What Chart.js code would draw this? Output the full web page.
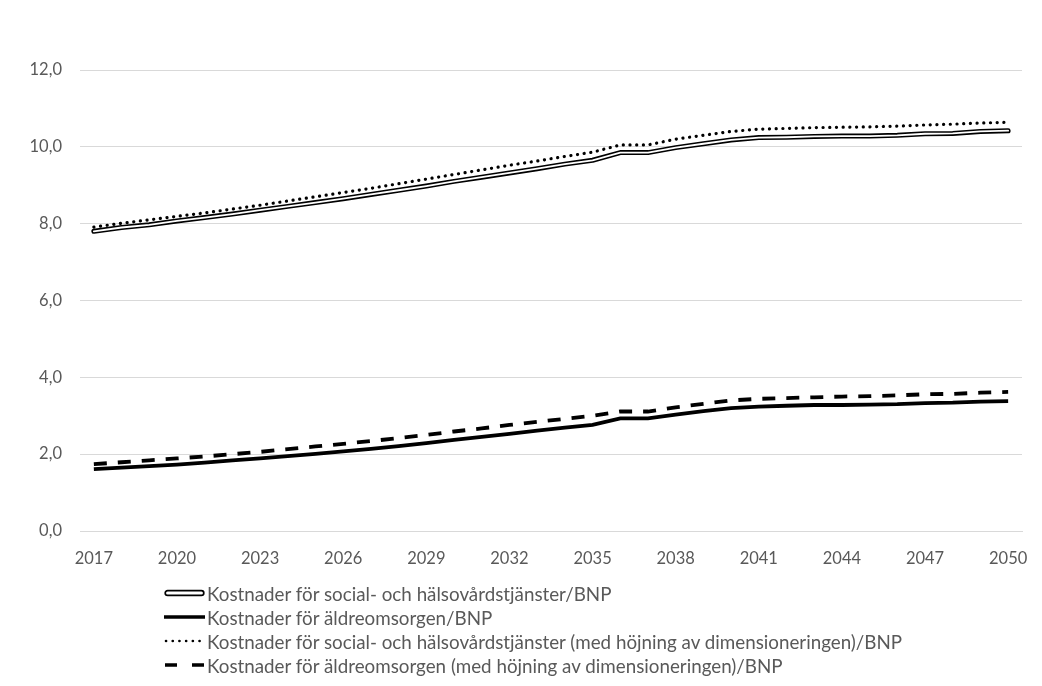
<!DOCTYPE html>
<html>
<head>
<meta charset="utf-8">
<script src="https://cdn.jsdelivr.net/npm/chart.js@4"></script>
<style>
  html,body{margin:0;padding:0;background:#fff;}
  #wrap{position:relative;width:1042px;height:686px;}
  #c{display:block;}
  #legend{position:absolute;left:164px;top:581px;font-family:Lato,"Open Sans",sans-serif;font-size:18.8px;color:#595959;}
  .row{height:24px;display:flex;align-items:center;white-space:nowrap;}
  .row svg{width:41px;height:10px;margin-right:2px;flex:none;}
</style>
</head>
<body>
<div id="wrap">
<canvas id="c" width="1042" height="686"></canvas>
<div id="legend"></div>
</div>
<script>
const years = [];
for (let y = 2017; y <= 2050; y++) years.push(String(y));

const seriesNames = [
  "Kostnader för social- och hälsovårdstjänster/BNP",
  "Kostnader för äldreomsorgen/BNP",
  "Kostnader för social- och hälsovårdstjänster (med höjning av dimensioneringen)/BNP",
  "Kostnader för äldreomsorgen (med höjning av dimensioneringen)/BNP"
];

const socialHealth = [7.80,7.90,7.97,8.07,8.16,8.25,8.35,8.45,8.55,8.65,8.76,8.87,8.98,9.10,9.21,9.32,9.43,9.55,9.65,9.85,9.85,9.98,10.08,10.18,10.24,10.25,10.27,10.28,10.28,10.30,10.34,10.35,10.40,10.42];
const elderCare = [1.61,1.65,1.69,1.73,1.78,1.84,1.89,1.95,2.01,2.07,2.14,2.21,2.29,2.37,2.45,2.53,2.61,2.69,2.76,2.93,2.93,3.03,3.12,3.20,3.24,3.26,3.28,3.28,3.29,3.30,3.33,3.34,3.37,3.38];
const socialHealthRaised = [7.91,8.01,8.10,8.19,8.28,8.38,8.48,8.59,8.70,8.81,8.92,9.04,9.16,9.28,9.40,9.52,9.63,9.75,9.86,10.05,10.05,10.20,10.30,10.40,10.46,10.48,10.50,10.51,10.52,10.54,10.57,10.59,10.62,10.64];
const elderCareRaised = [1.74,1.79,1.84,1.89,1.94,2.00,2.06,2.13,2.20,2.27,2.34,2.42,2.50,2.59,2.67,2.76,2.84,2.92,3.00,3.11,3.11,3.22,3.31,3.40,3.44,3.46,3.48,3.50,3.51,3.53,3.56,3.57,3.60,3.62];

const yTicks = [0,2,4,6,8,10,12];

const common = {pointRadius:0, pointHoverRadius:0, tension:0, fill:false};

new Chart(document.getElementById('c'), {
  type:'line',
  data:{
    labels: years,
    datasets:[
      Object.assign({label:seriesNames[2], data:socialHealthRaised, order:3, borderColor:'#000', borderWidth:3.2, borderDash:[0.1,6.6], borderCapStyle:'round'}, common),
      Object.assign({label:seriesNames[3], data:elderCareRaised, order:3, borderColor:'#000', borderWidth:3.8, borderDash:[13,11], borderCapStyle:'butt'}, common),
      Object.assign({label:seriesNames[1], data:elderCare, order:2, borderColor:'#000', borderWidth:3.8}, common),
      Object.assign({label:seriesNames[0], data:socialHealth, order:1, borderColor:'#000', borderWidth:5, borderCapStyle:'round', borderJoinStyle:'round'}, common),
      Object.assign({label:seriesNames[0]+' (inner)', data:socialHealth, order:0, borderColor:'#fff', borderWidth:1.8, borderCapStyle:'round', borderJoinStyle:'round'}, common)
    ]
  },
  options:{
    responsive:false,
    animation:false,
    events:[],
    layout:{padding:{left:0,right:20,top:70,bottom:100}},
    plugins:{legend:{display:false}, tooltip:{enabled:false}, title:{display:false}},
    scales:{
      x:{
        offset:true,
        grid:{display:false},
        border:{display:true,color:'#d9d9d9'},
        ticks:{
          autoSkip:false, maxRotation:0, padding:10,
          color:'#595959', font:{family:'Lato', size:16.5},
          callback:function(v,i){ return i%3===0 ? this.getLabelForValue(v) : ''; }
        },
        afterFit:function(s){ s.height = 55; }
      },
      y:{
        min:0, max:12,
        afterBuildTicks:function(s){ s.ticks = yTicks.map(v=>({value:v})); },
        grid:{color:'#d9d9d9', drawTicks:false, lineWidth:1},
        border:{display:false},
        ticks:{
          padding:18, color:'#595959', font:{family:'Lato', size:16.5},
          callback:v=>v.toFixed(1).replace('.',',')
        },
        afterFit:function(s){ s.width = 80; }
      }
    }
  }
});

const samples = [
  '<svg viewBox="0 0 41 10"><rect x="1.2" y="2.6" width="38.6" height="4.8" rx="2.4" fill="#fff" stroke="#000" stroke-width="1.7"/></svg>',
  '<svg viewBox="0 0 41 10"><line x1="0" y1="5" x2="41" y2="5" stroke="#000" stroke-width="3.4"/></svg>',
  '<svg viewBox="0 0 41 10"><line x1="2" y1="5" x2="40" y2="5" stroke="#000" stroke-width="2.6" stroke-linecap="round" stroke-dasharray="0.1 6.6"/></svg>',
  '<svg viewBox="0 0 41 10"><line x1="1" y1="5" x2="41" y2="5" stroke="#000" stroke-width="3.4" stroke-dasharray="12 15"/></svg>'
];
document.getElementById('legend').innerHTML = seriesNames.map((n,i)=>
  '<div class="row">'+samples[i]+'<span>'+n+'</span></div>').join('');
</script>
</body>
</html>
